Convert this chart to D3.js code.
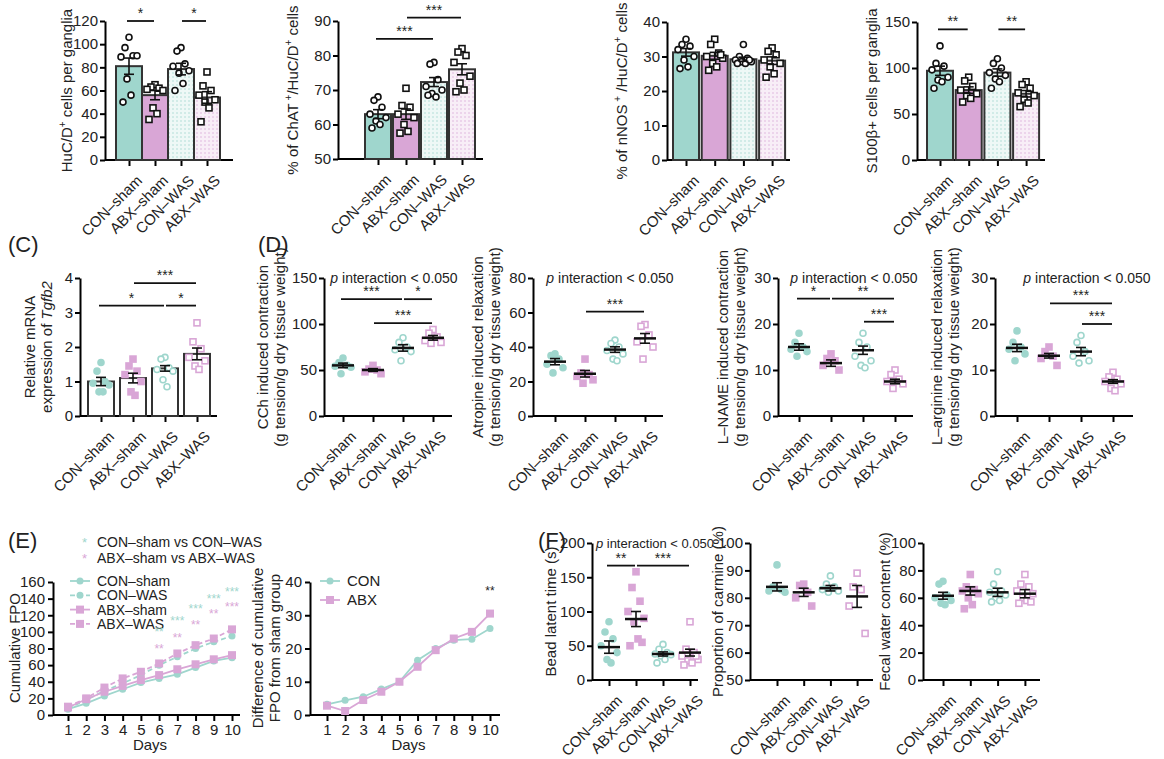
<!DOCTYPE html>
<html><head><meta charset="UTF-8">
<script src="https://d3js.org/d3.v7.min.js"></script>
<style>
body{margin:0;background:#fff}
text{font-family:"Liberation Sans",Arial,sans-serif;fill:#222}
</style></head><body>
<script>
const groups = ["CON–sham", "ABX–sham", "CON–WAS", "ABX–WAS"];
const TEAL = "#9fd6cd", PINK = "#d9a6d6";

// top row
const hucMeans = [81, 56, 78.5, 54], hucSem = [7, 4, 5, 5];
const hucPts = [[106,97,90,89,90,70,56,50],[65,63,62,61,60,45,40,35],[97,94,83,81,77,75,66,60],[76,64,60,56,52,50,45,33]];
const chatMeans = [63, 63, 72.3, 76], chatSem = [1.3, 1.5, 1.3, 1.6];
const chatPts = [[68,67,65,63,62,61,60,59],[70.5,65.5,65,63,62,60,58,57.5],[78,77.5,73,71,70,69,68,68.5],[82,81,80,78,74,72,70,69.5]];
const nosMeans = [31.2, 30.2, 29.2, 28.8], nosSem = [1.1, 1.0, 0.6, 1.1];
const nosPts = [[35,33.5,33,32,30,29,27,26.5],[35,33.5,31,30,29.5,28,27,26,30.5],[33.5,30,29.5,29,28.5,28.5,28,28,29],[32.5,31.5,30.5,29,28,27,25,24]];
const s100Means = [97, 76, 95, 72], s100Sem = [5, 3.5, 4, 3.5];
const s100Pts = [[124,105,102,98,90,87,85,78],[90,86,80,76,72,70,67,63],[110,105,100,95,92,88,85,78],[85,82,78,73,70,66,62,58]];
// (C)
const tgfMeans = [1.0, 1.1, 1.38, 1.8], tgfSem = [0.12, 0.14, 0.08, 0.17];
const tgfPts = [[1.55,1.3,1.0,0.95,0.9,0.7,0.7],[1.65,1.45,1.3,1.2,1.0,0.7,0.6],[1.7,1.65,1.4,1.35,1.3,1.05,0.85],[2.7,2.15,1.95,1.7,1.6,1.45,1.35]];
// (D)
const cchMeans = [55, 50, 74, 85], cchSem = [2.5, 1.5, 3.5, 2.5];
const cchPts = [[63,58,55,54,53,46],[55,51,50,48,46],[85,80,75,72,70,60],[94,90,86,82,80,79]];
const atrMeans = [31.5, 24.5, 38.5, 45], atrSem = [1.8, 1.9, 1.6, 2.8];
const atrPts = [[36,35,33,30,28,25],[33,25,24,23,21,19],[44,42,40,38,36,33,32],[53,52,47,43,40,33]];
const lnaMeans = [15, 11.5, 14.3, 7.5], lnaSem = [0.7, 0.7, 0.9, 0.5];
const lnaPts = [[18,16,15,14.5,14,13],[13.5,12.5,12,11,10],[18,16,15,13,12,11,10.5],[10,9,8,7.5,7,6]];
const larMeans = [14.8, 13.1, 14, 7.5], larSem = [0.8, 0.5, 0.9, 0.4];
const larPts = [[18.5,16,15,14.5,13.5,12],[15,14,13,12.5,11],[17.5,16,14,13,12,11.5],[9.5,8.5,8,7.5,7,6,5.5]];
// (E)
const days = [1,2,3,4,5,6,7,8,9,10];
const conSham = [7,14,23,31,39,44,49,57,65,69];
const conWas = [8,18,29,38,48,60,70,80,88,95];
const abxSham = [9,19,28,35,42,48,55,61,67,72];
const abxWas = [10,20,33,44,52,62,74,84,92,103];
const tealStars = [[6,"**",95],[7,"***",108],[8,"***",123],[9,"***",135],[10,"***",143]];
const pinkStars = [[6,"**",75],[7,"**",88],[8,"**",104],[9,"**",117],[10,"***",125]];
const diffCon = [3.2,4.4,5.5,7.8,10,16.5,20,22.5,22.8,26];
const diffAbx = [2.8,1.2,4.5,7,10,14.5,19.5,23,25,30.5];
// (F)
const beadMeans = [48, 89, 38, 40], beadSem = [9, 11, 3, 5];
const beadPts = [[85,70,60,50,40,30,25],[158,135,115,100,90,85,60,50,55],[52,45,40,38,37,35,30,25],[85,45,40,35,30,28,25,22,35]];
const carMeans = [84, 82, 83.5, 80.5], carSem = [1.5, 1.5, 1, 4];
const carPts = [[92,84,83,82.5,82],[85,84.5,82,80,77],[88,85,84,83,82.5,82],[89,84,83,77,67]];
const fwcMeans = [61.5, 65, 64, 63], fwcSem = [2.5, 3, 3, 3];
const fwcPts = [[72,70,62,60,58,56,55],[77,68,66,65,63,60,55,52],[79,70,65,64,62,60,58,57],[77,70,68,65,63,60,58,56,57]];

const svg = d3.select("body").append("svg").attr("width", 1164).attr("height", 759);
const defs = svg.append("defs");
[["hT", TEAL, "#eef8f6"], ["hP", PINK, "#f8eef7"]].forEach(([id, c, bg]) => {
  const p = defs.append("pattern").attr("id", id).attr("width", 4).attr("height", 4).attr("patternUnits", "userSpaceOnUse");
  p.append("rect").attr("width", 4).attr("height", 4).attr("fill", bg);
  p.append("circle").attr("cx", 1).attr("cy", 1).attr("r", 0.7).attr("fill", c);
});
const barFill = [TEAL, PINK, "url(#hT)", "url(#hP)"];
const fmt = d3.format("~g");

function jitter(i) { const k = [0, -1, 1, -2, 2, -0.5, 0.5, -1.5, 1.5][i % 9]; return k * 4; }

function panel(c) {
  const g = svg.append("g");
  const x = d3.scalePoint().domain(groups).range([c.x0, c.x0 + 3 * c.step]);
  const y = d3.scaleLinear().domain(c.dom).range([c.yb, c.yt]);
  g.append("g").attr("transform", `translate(${c.ax},0)`).call(d3.axisLeft(y).tickValues(c.ticks).tickFormat(fmt).tickSize(5).tickSizeOuter(0))
    .call(a => { a.select(".domain").attr("stroke-width", 2); a.selectAll("line").attr("stroke-width", 2); a.selectAll("text").style("font-size", "15px").attr("dx", "1"); });
  const xa = g.append("g").attr("transform", `translate(0,${c.yb})`)
    .call(d3.axisBottom(x).tickSize(6).tickSizeOuter(0));
  xa.select(".domain").attr("d", `M${c.ax},0H${c.xe}`).attr("stroke-width", 2);
  xa.selectAll("line").attr("stroke-width", 2);
  xa.selectAll("text").style("font-size", "15px").attr("text-anchor", "end").attr("dy", "0.3em")
    .attr("transform", "translate(4,12) rotate(-45)");
  const lab = g.append("text").attr("transform", `translate(${c.ax - c.lx},${(c.yt + c.yb) / 2}) rotate(-90)`)
    .attr("text-anchor", "middle").style("font-size", "15px");
  c.ylab.forEach((l, i) => lab.append("tspan").attr("x", 0).attr("dy", i ? "1.15em" : 0).html(l));
  const bw = 18;
  if (c.bar) {
    g.selectAll(".bar").data(c.means).join("rect")
      .attr("x", (d, i) => x(groups[i]) - bw / 2 - 4).attr("width", bw + 8)
      .attr("y", d => y(d)).attr("height", d => c.yb - y(d))
      .attr("fill", (d, i) => c.white ? "#fff" : barFill[i]).attr("stroke", "#333").attr("stroke-width", 2);
  }
  c.pts.forEach((arr, gi) => {
    const cx = x(groups[gi]);
    arr.forEach((v, i) => {
      const px = cx + jitter(i), py = y(v);
      const col = c.black ? "#111" : (gi % 2 ? PINK : TEAL);
      const filled = !c.black && gi < 2;
      const fill = filled ? col : "#fff";
      if (gi % 2 === 0) g.append("circle").attr("cx", px).attr("cy", py).attr("r", 3)
        .attr("fill", fill).attr("stroke", col).attr("stroke-width", 1.6);
      else g.append("rect").attr("x", px - 3).attr("y", py - 3).attr("width", 6).attr("height", 6)
        .attr("fill", fill).attr("stroke", col).attr("stroke-width", 1.6);
    });
    const m = c.means[gi], s = c.sem[gi], hw = c.bar ? 6 : 11;
    g.append("line").attr("x1", cx).attr("x2", cx).attr("y1", y(m - s)).attr("y2", y(m + s)).attr("stroke", "#111").attr("stroke-width", 1.6);
    [m - s, m + s].forEach(v => g.append("line").attr("x1", cx - 5).attr("x2", cx + 5).attr("y1", y(v)).attr("y2", y(v)).attr("stroke", "#111").attr("stroke-width", 1.6));
    if (!c.bar) g.append("line").attr("x1", cx - hw).attr("x2", cx + hw).attr("y1", y(m)).attr("y2", y(m)).attr("stroke", "#111").attr("stroke-width", 2.5);
  });
  (c.sig || []).forEach(([a, b, v, t]) => {
    const x1 = x(groups[a]) + (a ? 1 : -2), x2 = x(groups[b]) - 1;
    g.append("line").attr("x1", x1).attr("x2", x2).attr("y1", y(v)).attr("y2", y(v)).attr("stroke", "#111").attr("stroke-width", 1.8);
    g.append("text").attr("x", (x1 + x2) / 2).attr("y", y(v) - 3).attr("text-anchor", "middle").style("font-size", "14px").text(t);
  });
  if (c.pint) g.append("text").attr("x", c.ax + c.pint).attr("y", c.yt + 5).attr("text-anchor", "middle").style("font-size", c.pfs || "14px")
    .html('<tspan font-style="italic">p</tspan> interaction &lt; 0.050');
}

// top row
panel({ax:105, x0:129, step:26, xe:233, yt:21, yb:160, dom:[0,120], ticks:d3.range(0,121,20), bar:true, black:true,
  means:hucMeans, sem:hucSem, pts:hucPts, ylab:["HuC/D<tspan dy='-6' font-size='10'>+</tspan><tspan dy='6'> cells per ganglia</tspan>"], lx:33,
  sig:[[0,1,120,"*"],[2,3,120,"*"]]});
panel({ax:338, x0:378, step:28, xe:483, yt:21, yb:159, dom:[50,90], ticks:d3.range(50,91,10), bar:true, black:true,
  means:chatMeans, sem:chatSem, pts:chatPts, ylab:["% of ChAT<tspan dy='-6' font-size='10'> +</tspan><tspan dy='6'>/HuC/D</tspan><tspan dy='-6' font-size='10'>+</tspan><tspan dy='6'> cells</tspan>"], lx:40,
  sig:[[0,2,84.8,"***"],[1,3,91,"***"]]});
panel({ax:667, x0:686, step:28.7, xe:790, yt:22, yb:160, dom:[0,40], ticks:d3.range(0,41,10), bar:true, black:true,
  means:nosMeans, sem:nosSem, pts:nosPts, ylab:["% of nNOS<tspan dy='-6' font-size='10'> +</tspan><tspan dy='6'> /HuC/D</tspan><tspan dy='-6' font-size='10'>+</tspan><tspan dy='6'> cells</tspan>"], lx:40});
panel({ax:917, x0:940, step:28.7, xe:1045, yt:22, yb:160, dom:[0,150], ticks:[0,50,100,150], bar:true, black:true,
  means:s100Means, sem:s100Sem, pts:s100Pts, ylab:["S100β+ cells per ganglia"], lx:40,
  sig:[[0,1,142,"**"],[2,3,142,"**"]]});

// (C)
panel({ax:80, x0:101, step:32, xe:217, yt:278, yb:416, dom:[0,4], ticks:[0,1,2,3,4], bar:true, white:true,
  means:tgfMeans, sem:tgfSem, pts:tgfPts, ylab:["Relative mRNA", "expression of <tspan font-style='italic'>Tgfb2</tspan>"], lx:45,
  sig:[[0,2,3.2,"*"],[2,3,3.2,"*"],[1,3,3.85,"***"]]});
// (D)
panel({ax:324, x0:343, step:30, xe:452, yt:278, yb:416, dom:[0,150], ticks:[0,50,100,150],
  means:cchMeans, sem:cchSem, pts:cchPts, ylab:["CCh induced contraction", "(g tension/g dry tissue weight)"], lx:56, pint:70,
  sig:[[0,2,127,"***"],[2,3,127,"*"],[1,3,101,"***"]]});
panel({ax:533, x0:555, step:30, xe:663, yt:278, yb:416, dom:[0,80], ticks:[0,20,40,60,80],
  means:atrMeans, sem:atrSem, pts:atrPts, ylab:["Atropine induced relaxation", "(g tension/g dry tissue weight)"], lx:50, pint:77,
  sig:[[1,3,60.5,"***"]]});
panel({ax:778, x0:799, step:32, xe:913, yt:278, yb:416, dom:[0,30], ticks:[0,10,20,30],
  means:lnaMeans, sem:lnaSem, pts:lnaPts, ylab:["L–NAME induced contraction", "(g tension/g dry tissue weight)"], lx:50, pint:76,
  sig:[[0,1,25.5,"*"],[1,3,25.5,"**"],[2,3,20.5,"***"]]});
panel({ax:995, x0:1017, step:32, xe:1133, yt:278, yb:416, dom:[0,30], ticks:[0,10,20,30],
  means:larMeans, sem:larSem, pts:larPts, ylab:["L–arginine induced relaxation", "(g tension/g dry tissue weight)"], lx:53, pint:92,
  sig:[[1,3,24.5,"***"],[2,3,20,"***"]]});
// (F)
panel({ax:592, x0:609, step:27, xe:698, yt:543, yb:680, dom:[0,200], ticks:[0,50,100,150,200],
  means:beadMeans, sem:beadSem, pts:beadPts, ylab:["Bead latent time (s)"], lx:36, pint:63, pfs:"13px",
  sig:[[0,1,167,"**"],[1,3,167,"***"]]});
panel({ax:750, x0:777, step:26.7, xe:873, yt:543, yb:680, dom:[50,100], ticks:[50,60,70,80,90,100],
  means:carMeans, sem:carSem, pts:carPts, ylab:["Proportion of carmine (%)"], lx:27});
panel({ax:923, x0:943, step:27.3, xe:1040, yt:543, yb:680, dom:[0,100], ticks:[0,20,40,60,80,100],
  means:fwcMeans, sem:fwcSem, pts:fwcPts, ylab:["Fecal water content (%)"], lx:33});

// (E) line charts
function lineChart(c) {
  const g = svg.append("g");
  const x = d3.scaleLinear().domain([1, 10]).range([c.x1, c.x10]);
  const y = d3.scaleLinear().domain(c.dom).range([715, 582]);
  g.append("g").attr("transform", `translate(${c.ax},0)`).call(d3.axisLeft(y).tickValues(c.ticks).tickSize(5).tickSizeOuter(0))
    .call(a => { a.select(".domain").attr("stroke-width", 2); a.selectAll("line").attr("stroke-width", 2); a.selectAll("text").style("font-size", "15px"); });
  const xa = g.append("g").attr("transform", "translate(0,715)").call(d3.axisBottom(x).tickValues(days).tickFormat(d3.format("d")).tickSize(6).tickSizeOuter(0));
  xa.select(".domain").attr("d", `M${c.ax},0H${c.xe}`).attr("stroke-width", 2);
  xa.selectAll("line").attr("stroke-width", 2);
  xa.selectAll("text").style("font-size", "15px");
  g.append("text").attr("x", (c.x1 + c.x10) / 2).attr("y", 750).attr("text-anchor", "middle").style("font-size", "15px").text("Days");
  const lab = g.append("text").attr("transform", `translate(${c.ax - c.lx},648) rotate(-90)`).attr("text-anchor", "middle").style("font-size", "15px");
  c.ylab.forEach((l, i) => lab.append("tspan").attr("x", 0).attr("dy", i ? "1.15em" : 0).text(l));
  const line = d3.line().x((d, i) => x(days[i])).y(d => y(d));
  c.series.forEach(s => {
    g.append("path").attr("d", line(s.v)).attr("fill", "none").attr("stroke", s.col).attr("stroke-width", 1.8).attr("stroke-dasharray", s.dash ? "5,3" : null);
    s.v.forEach((v, i) => {
      if (s.sq) g.append("rect").attr("x", x(days[i]) - 4).attr("y", y(v) - 4).attr("width", 8).attr("height", 8).attr("fill", s.col);
      else g.append("circle").attr("cx", x(days[i])).attr("cy", y(v)).attr("r", 3.5).attr("fill", s.col);
    });
  });
  c.series.forEach((s, i) => {
    const ly = 581 + i * c.lg;
    g.append("line").attr("x1", c.lgx).attr("x2", c.lgx + 20).attr("y1", ly).attr("y2", ly).attr("stroke", s.col).attr("stroke-width", 1.8).attr("stroke-dasharray", s.dash ? "5,3" : null);
    if (s.sq) g.append("rect").attr("x", c.lgx + 6).attr("y", ly - 4).attr("width", 8).attr("height", 8).attr("fill", s.col);
    else g.append("circle").attr("cx", c.lgx + 10).attr("cy", ly).attr("r", 3.5).attr("fill", s.col);
    g.append("text").attr("x", c.lgx + 27).attr("y", ly + 5).style("font-size", c.lfs).text(s.name);
  });
  (c.stars || []).forEach(([d, t, v, col]) => g.append("text").attr("x", x(d)).attr("y", y(v)).attr("text-anchor", "middle")
    .style("font-size", "12px").style("fill", col).text(t));
  return g;
}
lineChart({ax:53, x1:68, x10:232, xe:240, dom:[0,160], ticks:d3.range(0,161,20), lx:33, lgx:70, lg:14.3, lfs:"14px",
  ylab:["Cumulative FPO"],
  series:[{name:"CON–sham", v:conSham, col:TEAL}, {name:"CON–WAS", v:conWas, col:TEAL, dash:true},
          {name:"ABX–sham", v:abxSham, col:PINK, sq:true}, {name:"ABX–WAS", v:abxWas, col:PINK, sq:true, dash:true}],
  stars: tealStars.map(s => [...s, TEAL]).concat(pinkStars.map(s => [...s, PINK]))});
lineChart({ax:310, x1:327, x10:490, xe:500, dom:[0,40], ticks:[0,10,20,30,40], lx:47, lgx:320, lg:19, lfs:"15px",
  ylab:["Difference of cumulative", "FPO from sham group"],
  series:[{name:"CON", v:diffCon, col:TEAL}, {name:"ABX", v:diffAbx, col:PINK, sq:true}],
  stars:[[10, "**", 36, "#222"]]});
svg.append("text").attr("x", 82).attr("y", 547).style("font-size", "13px").style("fill", TEAL).text("*");
svg.append("text").attr("x", 97).attr("y", 547).style("font-size", "14px").text("CON–sham vs CON–WAS");
svg.append("text").attr("x", 82).attr("y", 563).style("font-size", "13px").style("fill", PINK).text("*");
svg.append("text").attr("x", 97).attr("y", 563).style("font-size", "14px").text("ABX–sham vs ABX–WAS");

// panel letters
[["(C)", 8, 252], ["(D)", 258, 252], ["(E)", 8, 548], ["(F)", 538, 548]].forEach(([t, x, y]) =>
  svg.append("text").attr("x", x).attr("y", y).style("font-size", "22px").text(t));
</script></body></html>
